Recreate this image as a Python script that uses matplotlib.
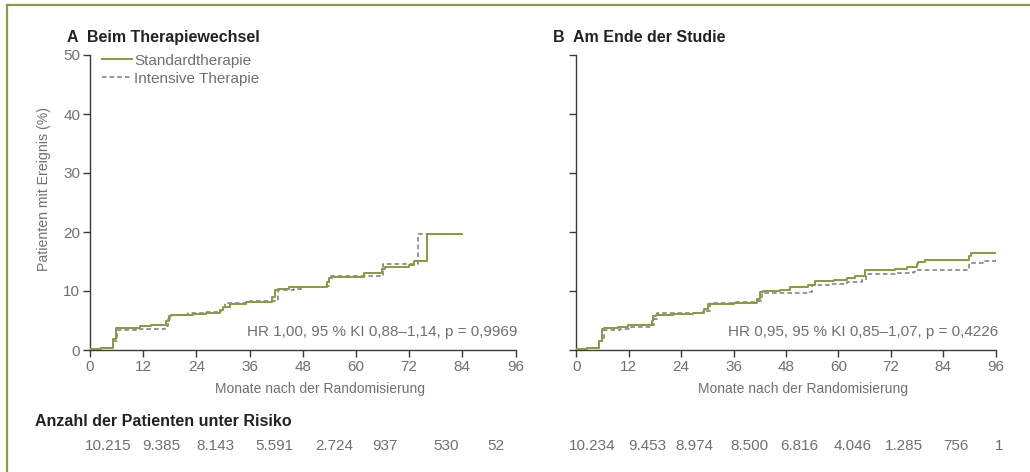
import matplotlib.pyplot as plt
from matplotlib.lines import Line2D

plt.rcParams['font.family'] = ['Liberation Sans', 'DejaVu Sans']

# panel A: at switch of therapy
a_std_t = [0, 2.5, 5.1, 5.9, 11.2, 13.8, 17.2, 17.8, 18.3, 23.2, 26.2, 29.3, 30.0, 31.5, 35.3, 41.0, 41.7, 42.5, 45.0, 47.4, 53.4, 54.0, 54.5, 61.8, 65.8, 66.6, 71.9, 73.0, 76.0, 84.0]
a_std_v = [0.1, 0.4, 1.8, 3.7, 4.1, 4.2, 5.0, 5.8, 5.9, 6.1, 6.3, 6.7, 7.3, 7.8, 8.1, 9.0, 10.2, 10.3, 10.6, 10.7, 11.5, 12.2, 12.4, 13.1, 13.7, 14.0, 14.4, 15.1, 19.6, 19.6]
a_int_t = [0, 2.5, 5.2, 6.0, 11.0, 17.0, 17.6, 18.0, 22.0, 26.0, 29.5, 30.5, 36.0, 41.5, 42.5, 46.0, 48.0, 53.3, 54.0, 60.0, 65.5, 66.0, 73.8, 74.0, 84.0]
a_int_v = [0.1, 0.3, 1.5, 3.4, 3.5, 4.0, 5.2, 6.0, 6.2, 6.4, 6.7, 8.0, 8.3, 8.3, 10.2, 10.4, 10.6, 10.9, 12.5, 12.5, 12.7, 14.5, 14.5, 19.7, 19.7]

# panel B: end of study
b_std_t = [0, 2.5, 5.3, 5.8, 6.3, 9.6, 11.9, 17.3, 17.6, 18.2, 22.2, 26.8, 29.2, 30.2, 36.0, 41.3, 42.0, 42.8, 46.6, 49.0, 53.0, 54.7, 58.9, 61.9, 63.8, 66.1, 73.0, 75.6, 77.9, 78.3, 79.8, 89.8, 90.3, 96.0]
b_std_v = [0.1, 0.3, 1.5, 3.5, 3.7, 3.9, 4.2, 5.0, 5.7, 5.9, 6.1, 6.3, 7.0, 7.8, 8.0, 8.6, 9.8, 10.0, 10.2, 10.7, 11.1, 11.7, 11.9, 12.2, 12.5, 13.5, 13.8, 14.0, 14.5, 14.9, 15.3, 15.9, 16.5, 16.5]
b_int_t = [0, 2.5, 5.3, 6.3, 10.0, 12.5, 17.3, 17.8, 18.4, 24.0, 29.0, 30.5, 36.0, 41.5, 42.5, 48.0, 53.0, 54.0, 58.0, 62.0, 65.5, 66.3, 73.0, 77.0, 77.5, 89.3, 89.8, 93.0, 96.0]
b_int_v = [0.1, 0.3, 1.5, 3.4, 3.6, 3.9, 4.2, 5.3, 6.2, 6.3, 6.6, 7.9, 8.1, 8.3, 9.6, 9.7, 9.9, 11.0, 11.2, 11.5, 11.8, 12.8, 13.0, 13.2, 13.5, 13.5, 14.7, 15.1, 15.2]

xticks = [0, 12, 24, 36, 48, 60, 72, 84, 96]
yticks = [0, 10, 20, 30, 40, 50]

risk_a = ['10.215', '9.385', '8.143', '5.591', '2.724', '937', '530', '52']
risk_b = ['10.234', '9.453', '8.974', '8.500', '6.816', '4.046', '1.285', '756', '1']
# x centres of the numbers (pixels)
risk_a_px = [108, 161, 215, 274, 334, 385, 446, 496]
risk_b_px = [592, 647, 694, 749, 799, 853, 904, 956, 999]

hr_a = 'HR 1,00, 95 % KI 0,88–1,14, p = 0,9969'
hr_b = 'HR 0,95, 95 % KI 0,85–1,07, p = 0,4226'

green = '#8a9a3c'
dash = '#7a7a80'
axc = '#3a3a3a'
txt = '#707070'
W, H = 1030, 472

fig = plt.figure(figsize=(W / 100, H / 100), dpi=100)
ax1 = fig.add_axes([90 / W, 1 - 350 / H, 425.5 / W, 295 / H])
ax2 = fig.add_axes([576.3 / W, 1 - 350 / H, 419.4 / W, 295 / H])

panels = [
    (ax1, a_std_t, a_std_v, a_int_t, a_int_v, hr_a, 'A  Beim Therapiewechsel'),
    (ax2, b_std_t, b_std_v, b_int_t, b_int_v, hr_b, 'B  Am Ende der Studie'),
]
for ax, st, sv, it, iv, hr, title in panels:
    ax.plot(it, iv, drawstyle='steps-post', color=dash, lw=1.1,
            dashes=(3, 2), label='Intensive Therapie', zorder=2)
    ax.plot(st, sv, drawstyle='steps-post', color=green, lw=1.4,
            label='Standardtherapie', zorder=3)
    ax.set_xlim(0, 96)
    ax.set_ylim(0, 50)
    ax.set_xticks(xticks)
    ax.set_yticks(yticks)
    for s in ['top', 'right']:
        ax.spines[s].set_visible(False)
    for s in ['left', 'bottom']:
        ax.spines[s].set_color(axc)
        ax.spines[s].set_linewidth(1.0)
    ax.tick_params(direction='out', length=5, width=1.0, color=axc,
                   labelcolor=txt, labelsize=11, pad=2)
    ax.set_xlabel('Monate nach der Randomisierung', color=txt, fontsize=10, labelpad=6)
    ax.xaxis.label.set_x(0.54)
    ax.text(96.5, 3, hr, ha='right', va='center', color=txt, fontsize=11)
    ax.text(-0.055, 1.035, title, transform=ax.transAxes, fontsize=11.5,
            fontweight='bold', color='#222222', ha='left', va='bottom')
    ax.patch.set_alpha(0)

ax2.tick_params(axis='y', labelleft=False)
ax1.set_ylabel('Patienten mit Ereignis (%)', color=txt, fontsize=10.2)
ax1.yaxis.set_label_coords(-0.092, 0.546)

handles = [Line2D([], [], color=green, lw=1.4),
           Line2D([], [], color=dash, lw=1.1, dashes=(3, 2))]
leg = ax1.legend(handles, ['Standardtherapie', 'Intensive Therapie'],
                 loc='upper left', bbox_to_anchor=(0.014, 1.025), frameon=False,
                 fontsize=11, handlelength=1.95, handletextpad=0.15,
                 labelspacing=0.25, borderaxespad=0)
for t in leg.get_texts():
    t.set_color(txt)

fig.text(35 / W, 1 - 421 / H, 'Anzahl der Patienten unter Risiko',
         fontsize=11.5, fontweight='bold', color='#222222', ha='left', va='center')
for lab, px in zip(risk_a + risk_b, risk_a_px + risk_b_px):
    fig.text(px / W, 1 - 446 / H, lab, fontsize=11, color=txt,
             ha='center', va='center')

# olive frame on top and left
fig.add_artist(Line2D([7 / W, 1], [1 - 4.5 / H, 1 - 4.5 / H], color='#8d9b48',
                      lw=1.6, transform=fig.transFigure))
fig.add_artist(Line2D([7 / W, 7 / W], [0, 1 - 4.5 / H], color='#8d9b48',
                      lw=1.6, transform=fig.transFigure))

fig.savefig('out.png', dpi=100)
